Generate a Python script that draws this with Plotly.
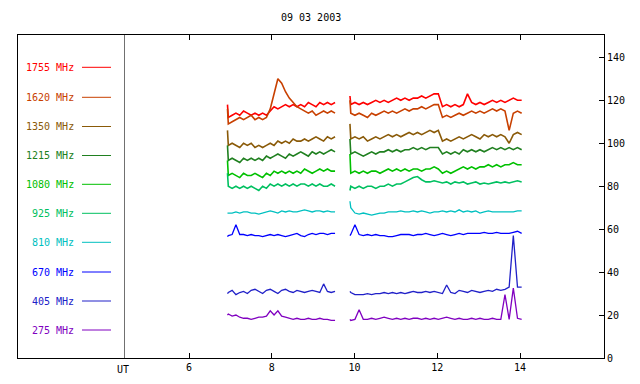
import numpy as np
import plotly.graph_objects as go

# ---------------- data ----------------
title_text = "09 03 2003"
ut_label = "UT"
freqs = ["1755 MHz", "1620 MHz", "1350 MHz", "1215 MHz", "1080 MHz",
         "925 MHz", "810 MHz", "670 MHz", "405 MHz", "275 MHz"]
colors = ["#ff0000", "#c84000", "#8a5a08", "#208020", "#00c000",
          "#00c060", "#00c0c0", "#0000ff", "#2020c8", "#8000c0"]
x_ticks = [6, 8, 10, 12, 14]
y_ticks = [0, 20, 40, 60, 80, 100, 120, 140]

# observation windows (UT hours): [transient, first sample, last sample]
seg1 = [6.93, 6.95, 9.53]
seg2 = [9.89, 9.91, 14.04]

# first observation window
s1755_a = [118,112,113,114,113,115,114,113,114,113,114,113,115,117,116,117,118,117,118,117,118,117,119,118,117,119,118,119,118,119]
s1620_a = [116,109,110,111,112,111,112,113,111,112,111,112,116,123,130,128,124,121,119,117,116,115,114,115,113,114,115,114,115,114]
s1350_a = [106,99,100,99,98,100,99,100,98,99,98,99,100,99,101,100,101,100,102,101,101,102,101,102,103,102,101,103,102,103]
s1215_a = [99,92,93,92,91,93,92,93,92,93,92,94,93,94,95,94,93,95,94,95,96,95,94,96,95,96,95,96,97,96]
s1080_a = [92,85,86,85,84,86,85,85,86,85,84,86,85,87,86,87,86,87,86,87,86,88,87,86,87,88,87,88,87,87]
s925_a = [86,80,79,80,79,80,79,80,79,78,80,79,81,80,81,80,81,80,81,80,81,81,80,81,80,81,80,80,81,80]
s810_a = [67.5,67.5,67.5,68,67.5,68,68,67.5,67.5,67,67.5,68,68.5,68,67.5,68.5,68,68.5,68,68,68.5,69,68.5,68,68.5,68.5,68,68.5,68,68]
s670_a = [56.5,57,57.5,62,57.5,57.5,57,57.5,57,57,56.5,57,57.5,57,57.5,57,56.5,57,57.5,58,57,56.5,57.5,58,57.5,58,58,57.5,58,58]
s405_a = [30,30.5,31.5,29.5,30.5,31,30,31.5,32,31,30,31.5,32,31,30,31.5,32,31,30.5,31.5,31,30.5,31,31.5,31,30.5,34.5,31,30.5,31]
s275_a = [20,20.5,19.5,20,19,18.5,18.5,18,18.5,19,19,19.5,22,20,22,19.5,19,18.5,18,18.5,18,18,18.5,18,18,18.5,18,18,17.5,17.5]

# second observation window
s1755_b = [122,118,119,118,119,118,119,120,119,120,119,120,121,120,121,120,121,121,122,121,122,123,123,117,118,117,118,117,118,123,119,118,119,118,119,120,119,120,119,120,121,120,120]
s1620_b = [120,114,113,114,113,112,114,113,114,115,114,115,114,115,116,115,116,116,117,116,117,118,118,112,113,112,113,114,113,114,115,114,115,114,115,116,115,116,115,106,114,115,114]
s1350_b = [109,102,103,102,103,101,102,103,102,103,104,103,104,103,104,105,104,105,104,105,106,105,106,101,102,101,102,103,102,103,104,103,102,104,103,104,103,104,103,100,104,105,104]
s1215_b = [102,95,96,95,94,95,96,95,96,96,97,96,97,96,97,97,98,97,98,97,98,98,98,95,96,95,96,95,97,96,97,96,97,96,97,98,97,98,97,98,97,98,97]
s1080_b = [95,86,87,86,87,86,87,87,86,87,88,87,88,87,88,87,88,88,87,88,88,89,88,86,87,86,87,88,89,88,89,88,89,89,90,89,90,89,90,90,91,90,90]
s925_b = [78,80,79,80,79,80,80,79,80,80,81,80,81,81,82,83,84,84.5,83,82,82,82.5,82,81.5,82,81,82,81.5,82,81,81.5,82,81,81.5,81,81.5,82,81.5,82,81.5,82,82.5,82]
s810_b = [73,70,67.5,67,67.5,67,66.5,67,67.5,67.5,68,68,68,68.5,68,68,68.5,68,68.5,68,67.5,68,68,68.5,68,68.5,68,69,68,68.5,68,68.5,67.5,68,68.5,68,68,68,68,68,68,68.5,68.5]
s670_b = [57,57.5,62,57.5,57,57.5,57,57.5,57,57,56.5,56.5,57,57.5,57.5,57.5,57,57.5,57.5,58,57.5,57,57.5,58,57.5,57,57.5,58,57.5,58,58,58,58,58.5,58,58,58.5,58,58,58,58.5,59,58]
s405_b = [31,30.5,29.5,29.5,29.5,30,29.5,30,30,30.5,30,30.5,30,30.5,30,30.5,31,30.5,30.5,31,30.5,31,30.5,30,34,30.5,30,31.5,31,30.5,31.5,31,30.5,31,31.5,31,32,31.5,32,33,57,33,33]
s275_b = [18,17.5,18,22.5,18,18,18.5,18,18.5,19,18.5,18,18.5,18,18.5,18,18.5,18.5,18,18.5,18,18.5,18,18.5,19,18.5,18,18.5,18,18,18.5,18,18.5,18,18,18.5,18,18,29.5,18,32.5,18.5,18]

series_a = [s1755_a, s1620_a, s1350_a, s1215_a, s1080_a, s925_a, s810_a, s670_a, s405_a, s275_a]
series_b = [s1755_b, s1620_b, s1350_b, s1215_b, s1080_b, s925_b, s810_b, s670_b, s405_b, s275_b]

# ---------------- layout constants ----------------
W, H = 640, 384
ML, MR, MT, MB = 18, 36, 35, 26
PW, PH = W - ML - MR, H - MT - MB
FONT = "DejaVu Sans Mono"


def px_x(p):
    return (p - ML) / PW


def px_y(p):
    return (H - MB - p) / PH


def times(seg, n):
    return [seg[0]] + list(np.linspace(seg[1], seg[2], n - 1))


fig = go.Figure()
for i, (name, col, va, vb) in enumerate(zip(freqs, colors, series_a, series_b)):
    xs = times(seg1, len(va)) + [None] + times(seg2, len(vb))
    ys = list(va) + [None] + list(vb)
    fig.add_trace(go.Scatter(x=xs, y=ys, mode="lines", name=name,
                             line=dict(color=col, width=1.6 if i < 6 else 1.3),
                             connectgaps=False, showlegend=False, hoverinfo="skip"))

# legend (text + short line) inside the left panel
legend_px_y = [67.3, 97.3, 126.5, 155.5, 184.3, 213.3, 242.3, 272, 301, 330]
annotations = []
shapes = []
for name, col, py in zip(freqs, colors, legend_px_y):
    annotations.append(dict(x=px_x(76), y=px_y(py), xref="paper", yref="paper",
                            text=name, showarrow=False, xanchor="right", yanchor="middle",
                            font=dict(family=FONT, size=10, color=col)))
    shapes.append(dict(type="line", xref="paper", yref="paper",
                       x0=px_x(82), x1=px_x(111), y0=px_y(py), y1=px_y(py),
                       line=dict(color=col, width=1)))

# divider between legend panel and data
shapes.append(dict(type="line", xref="paper", yref="paper",
                   x0=px_x(124.5), x1=px_x(124.5), y0=0, y1=1,
                   line=dict(color="#707070", width=1)))

annotations.append(dict(x=px_x(123), y=px_y(369), xref="paper", yref="paper",
                        text=ut_label, showarrow=False, xanchor="center", yanchor="middle",
                        font=dict(family=FONT, size=10, color="black")))
annotations.append(dict(x=px_x(311), y=px_y(17), xref="paper", yref="paper",
                        text=title_text, showarrow=False, xanchor="center", yanchor="middle",
                        font=dict(family=FONT, size=10, color="black")))

# x range from pixel positions of ticks 6 (189) and 14 (520)
pph = (520 - 189) / 8.0
x_lo = 6 - (189 - ML) / pph
x_hi = 6 + (W - MR - 189) / pph
y_hi = 150.4

fig.update_layout(
    width=W, height=H,
    margin=dict(l=ML, r=MR, t=MT, b=MB, pad=0),
    paper_bgcolor="white", plot_bgcolor="white",
    font=dict(family=FONT, size=10, color="black"),
    annotations=annotations, shapes=shapes,
    xaxis=dict(range=[x_lo, x_hi], tickvals=x_ticks, ticktext=[str(v) for v in x_ticks],
               ticks="inside", ticklen=5, tickwidth=1, tickcolor="black",
               showline=True, linecolor="black", linewidth=1, mirror="ticks",
               showgrid=False, zeroline=False, fixedrange=True,
               tickfont=dict(family=FONT, size=10, color="black")),
    yaxis=dict(range=[0, y_hi], tickvals=y_ticks, side="right",
               ticks="inside", ticklen=5, tickwidth=1, tickcolor="black",
               showline=True, linecolor="black", linewidth=1, mirror=True,
               showgrid=False, zeroline=False, fixedrange=True,
               tickfont=dict(family=FONT, size=10, color="black")),
)

fig.write_html("out.html", config={"displayModeBar": False},
               post_script="document.body.style.margin='0';")
